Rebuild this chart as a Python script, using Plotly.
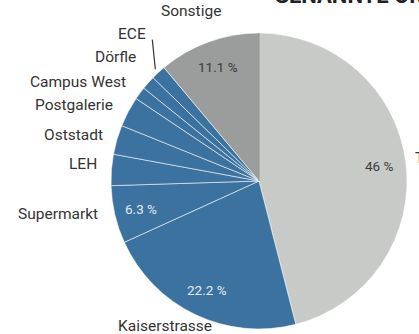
import math
import plotly.graph_objects as go

# Share of mentions per location (percent), clockwise from 12 o'clock
categories = ["Teils", "Kaiserstrasse", "Supermarkt", "LEH", "Oststadt",
              "Postgalerie", "Campus West", "Dörfle", "ECE", "Sonstige"]
values = [46.0, 22.2, 6.3, 3.4, 3.2, 3.3, 1.4, 1.5, 1.6, 11.1]
value_labels = ["46 %", "22.2 %", "6.3 %", "", "", "", "", "", "", "11.1 %"]
title_text = "GENANNTE ORTE"

GREY_LIGHT = "#c8cac7"
GREY_DARK = "#9b9d9d"
BLUE = "#3c72a0"
slice_colors = [GREY_LIGHT] + [BLUE] * 8 + [GREY_DARK]
value_colors = ["#3a3a3a", "#e3eaf2", "#e3eaf2", None, None, None, None, None, None, "#3a3a3a"]

W, H = 419, 334
CX, CY, R = 259, 181, 148  # pie centre and radius in pixels

# manual label nudges (pixels) for crowded slices
label_nudge = {
    "Teils": (-8, -3),
    "Supermarkt": (0, -4),
    "LEH": (2, -5),
    "Oststadt": (2, -1),
    "Campus West": (0, -2),
    "Dörfle": (1, -16),
    "ECE": (0, -28),
    "Kaiserstrasse": (25, -2),
    "Sonstige": (20, -17),
}


def px(x, y):
    return x / W, 1 - y / H


def polar(angle_deg, r):
    a = math.radians(angle_deg)
    return CX + r * math.sin(a), CY - r * math.cos(a)


fig = go.Figure()
fig.add_trace(go.Pie(
    labels=categories,
    values=values,
    sort=False,
    direction="clockwise",
    rotation=0,
    marker=dict(colors=slice_colors,
                line=dict(color="rgba(255,255,255,0.55)", width=1)),
    textinfo="none",
    hoverinfo="label+percent",
    showlegend=False,
    domain=dict(x=[(CX - R) / W, (CX + R) / W],
                y=[1 - (CY + R) / H, 1 - (CY - R) / H]),
))

annotations = []
shapes = []
total = sum(values)
cum = 0.0
name_font = dict(family="Roboto, sans-serif", size=15.5, color="#333333")
for name, v, vl, vc in zip(categories, values, value_labels, value_colors):
    start = cum / total * 360
    cum += v
    end = cum / total * 360
    mid = (start + end) / 2

    if vl:
        tx, ty = polar(mid, 0.82 * R)
        x, y = px(tx, ty)
        annotations.append(dict(x=x, y=y, xref="paper", yref="paper",
                                text=vl, showarrow=False,
                                xanchor="center", yanchor="middle",
                                font=dict(family="Roboto, sans-serif", size=13.5, color=vc)))

    lx, ly = polar(mid, 1.1 * R)
    dx, dy = label_nudge.get(name, (0, 0))
    lx, ly = lx + dx, ly + dy
    anchor = "left" if mid < 180 else ("right" if mid > 180 else "center")
    x, y = px(lx, ly)
    annotations.append(dict(x=x, y=y, xref="paper", yref="paper",
                            text=name, showarrow=False,
                            xanchor=anchor, yanchor="middle", font=name_font))

    if name == "ECE":
        ex, ey = polar(mid, 1.03 * R)
        x0, y0 = px(lx + 4, ly + 6)
        x1, y1 = px(ex, ey)
        shapes.append(dict(type="line", xref="paper", yref="paper",
                           x0=x0, y0=y0, x1=x1, y1=y1,
                           line=dict(color="#333333", width=1.2)))

# darker seam at the start angle
sx0, sy0 = px(CX, CY)
sx1, sy1 = px(*polar(0, R))
shapes.append(dict(type="line", xref="paper", yref="paper",
                   x0=sx0, y0=sy0, x1=sx1, y1=sy1,
                   line=dict(color="#7a7c7c", width=1)))

tx, ty = px(272, -4)
annotations.append(dict(x=tx, y=ty, xref="paper", yref="paper",
                        text="<b>" + title_text + "</b>", showarrow=False,
                        xanchor="left", yanchor="middle",
                        font=dict(family="Roboto, sans-serif", size=22, color="#222222")))

fig.update_layout(
    width=W, height=H,
    margin=dict(l=0, r=0, t=0, b=0),
    paper_bgcolor="white",
    plot_bgcolor="white",
    annotations=annotations,
    shapes=shapes,
)

fig.write_html("out.html")
